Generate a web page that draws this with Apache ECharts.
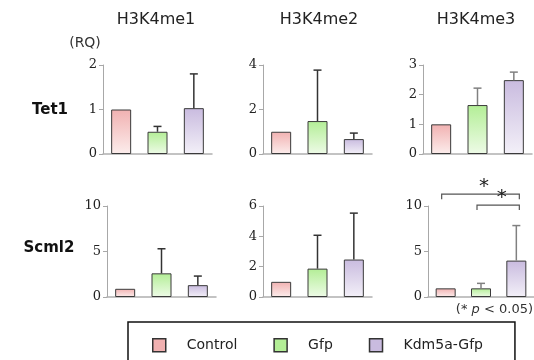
<!DOCTYPE html>
<html>
<head>
<meta charset="utf-8">
<script src="https://cdn.jsdelivr.net/npm/echarts@6/dist/echarts.min.js"></script>
<style>
html, body { margin: 0; padding: 0; background: #fff; }
#chart { width: 534px; height: 360px; }
</style>
</head>
<body>
<div id="chart"></div>
<script>
// groups / panels
const groups = ['Control', 'Gfp', 'Kdm5a-Gfp'];
const marks = ['H3K4me1', 'H3K4me2', 'H3K4me3'];
const genes = ['Tet1', 'Scml2'];

// relative quantity (RQ), one row per mark, one value per group
const tet1Mean = [[1.0, 0.5, 1.03], [1.0, 1.48, 0.67], [1.0, 1.65, 2.49]];
const tet1Err = [[0, 0.12, 0.77], [0, 2.29, 0.27], [0, 0.57, 0.27]];
const scml2Mean = [[0.9, 2.6, 1.3], [1.0, 1.87, 2.47], [0.95, 0.95, 4.0]];
const scml2Err = [[0, 2.7, 1.0], [0, 2.2, 3.06], [0, 0.55, 3.85]];

// y axis max / step per panel
const yMax = [[2, 4, 3], [10, 6, 10]];
const yStep = [[1, 2, 1], [5, 2, 5]];

// significance brackets on Scml2 / H3K4me3: [from, to, level]
const sigPairs = [[0, 2, 11.3], [1, 2, 10.1]];

const means = [tet1Mean, scml2Mean];
const errs = [tet1Err, scml2Err];

// layout
const gridLeft = [[103, 263, 423], [107, 263, 428]];
const gridTop = [65, 206];
const gridHeight = [89, 91];
const gridWidth = 109;

const palette = [
  ['#f1b1b1', '#fcedec'],
  ['#b3ee96', '#eefbe7'],
  ['#c9bbdf', '#f3f0f8']
];
const errColor = ['#333', '#333', '#808080'];

const sans = 'DejaVu Sans';
const serif = 'DejaVu Serif';

const grids = [], xAxes = [], yAxes = [], series = [];

genes.forEach(function (gene, r) {
  marks.forEach(function (mark, c) {
    const idx = r * 3 + c;
    grids.push({
      left: gridLeft[r][c], top: gridTop[r],
      width: gridWidth, height: gridHeight[r]
    });
    xAxes.push({
      type: 'category', gridIndex: idx, data: groups,
      axisLine: { lineStyle: { color: '#b0b0b0', width: 1.5 } },
      axisTick: { show: false },
      axisLabel: { show: false }
    });
    yAxes.push({
      type: 'value', gridIndex: idx, min: 0, max: yMax[r][c], interval: yStep[r][c],
      axisLine: { show: true, lineStyle: { color: '#a8a8a8' } },
      axisTick: { show: true, length: 4, lineStyle: { color: '#a8a8a8' } },
      axisLabel: { fontFamily: serif, fontSize: 13, color: '#222', margin: 6 },
      splitLine: { show: false }
    });
    groups.forEach(function (g, k) {
      series.push({
        name: g, type: 'bar', xAxisIndex: idx, yAxisIndex: idx,
        barWidth: 20, barGap: '-100%',
        data: groups.map(function (_, j) { return j === k ? means[r][c][j] : '-'; }),
        itemStyle: {
          color: new echarts.graphic.LinearGradient(0, 0, 0, 1, [
            { offset: 0, color: palette[k][0] },
            { offset: 1, color: palette[k][1] }
          ]),
          borderColor: '#3a3a3a', borderWidth: 1
        },
        silent: true
      });
    });
    // error bars (upper only)
    series.push({
      type: 'custom', xAxisIndex: idx, yAxisIndex: idx, z: 5, silent: true,
      data: means[r][c].map(function (m, j) { return [j, m, m + errs[r][c][j]]; })
        .filter(function (d) { return d[2] > d[1]; }),
      renderItem: function (params, api) {
        const p0 = api.coord([api.value(0), api.value(1)]);
        const p1 = api.coord([api.value(0), api.value(2)]);
        const st = { stroke: errColor[c], lineWidth: 1.5 };
        return {
          type: 'group', children: [
            { type: 'line', shape: { x1: p0[0], y1: p0[1], x2: p1[0], y2: p1[1] }, style: st },
            { type: 'line', shape: { x1: p1[0] - 4, y1: p1[1], x2: p1[0] + 4, y2: p1[1] }, style: st }
          ]
        };
      }
    });
  });
});

// significance brackets on the last panel
series.push({
  type: 'custom', xAxisIndex: 5, yAxisIndex: 5, z: 5, silent: true, clip: false,
  data: sigPairs,
  renderItem: function (params, api) {
    const a = api.coord([api.value(0), api.value(2)]);
    const b = api.coord([api.value(1), api.value(2)]);
    return {
      type: 'group', children: [
        {
          type: 'polyline',
          shape: { points: [[a[0] - 4, a[1] + 5], [a[0] - 4, a[1]], [b[0] + 3, b[1]], [b[0] + 3, b[1] + 5]] },
          style: { stroke: '#555', lineWidth: 1.2, fill: null }
        },
        {
          type: 'text',
          style: {
            x: (a[0] + b[0]) / 2 + 3, y: a[1] + 3, text: '*',
            font: '20px ' + sans, fill: '#222',
            textAlign: 'center', textVerticalAlign: 'bottom'
          }
        }
      ]
    };
  }
});

const graphics = [];
const titleX = [156, 319, 476];
marks.forEach(function (m, c) {
  graphics.push({
    type: 'text', x: titleX[c], y: 20,
    style: { text: m, font: '16px ' + sans, fill: '#222', textAlign: 'center', textVerticalAlign: 'middle' }
  });
});
graphics.push({
  type: 'text', x: 85, y: 43,
  style: { text: '(RQ)', font: '14px ' + sans, fill: '#333', textAlign: 'center', textVerticalAlign: 'middle' }
});
const geneY = [110, 248];
const geneX = [50, 49];
genes.forEach(function (g, r) {
  graphics.push({
    type: 'text', x: geneX[r], y: geneY[r],
    style: { text: g, font: 'bold 15px ' + sans, fill: '#111', textAlign: 'center', textVerticalAlign: 'middle' }
  });
});
graphics.push({
  type: 'text', x: 533, y: 310,
  style: {
    text: '(* {i|p} < 0.05)', font: '13px ' + sans, fill: '#333',
    textAlign: 'right', textVerticalAlign: 'middle',
    rich: { i: { fontStyle: 'italic', fontSize: 13, fontFamily: sans, fill: '#333' } }
  }
});

const chart = echarts.init(document.getElementById('chart'));
chart.setOption({
  animation: false,
  grid: grids,
  xAxis: xAxes,
  yAxis: yAxes,
  series: series,
  legend: {
    left: 128, top: 322,
    icon: 'rect', itemWidth: 13, itemHeight: 13, itemGap: 36,
    padding: [16, 32, 24, 24],
    borderColor: '#111', borderWidth: 1.5,
    selectedMode: false,
    textStyle: { fontFamily: sans, fontSize: 14, color: '#222', padding: [0, 0, 0, 16] },
    data: groups.map(function (g, k) {
      return { name: g, itemStyle: { color: palette[k][0], borderColor: '#333', borderWidth: 1.5 } };
    })
  },
  graphic: graphics
});
</script>
</body>
</html>
